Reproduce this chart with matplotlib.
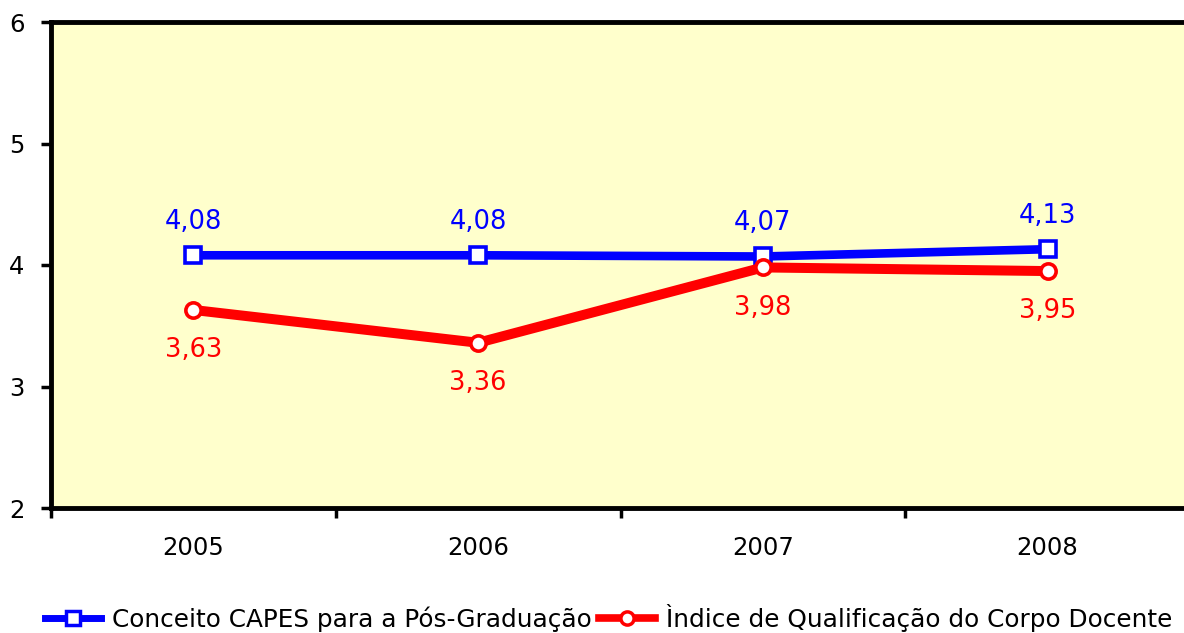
import matplotlib
matplotlib.use("Agg")
import matplotlib.pyplot as plt
from matplotlib.lines import Line2D

years = ["2005", "2006", "2007", "2008"]
capes = [4.08, 4.08, 4.07, 4.13]
iqcd = [3.63, 3.36, 3.98, 3.95]
capes_labels = ["4,08", "4,08", "4,07", "4,13"]
iqcd_labels = ["3,63", "3,36", "3,98", "3,95"]
series_names = ["Conceito CAPES para a Pós-Graduação", "Ìndice de Qualificação do Corpo Docente"]

plt.rcParams['font.family'] = ['DejaVu Sans']
fig = plt.figure(figsize=(11.84, 6.33), dpi=100)
ax = fig.add_axes([51/1184, 1-508/633, (1190-51)/1184, (508-22)/633])
ax.set_facecolor('#FFFFCC')

x = list(range(len(years)))
ax.plot(x, capes, color='#0000FF', lw=6.2, marker='s', ms=11.5, mfc='white', mec='#0000FF', mew=2.6, zorder=3)
ax.plot(x, iqcd, color='#FF0000', lw=7.2, marker='o', ms=11, mfc='white', mec='#FF0000', mew=2.6, zorder=3)

for xi, v, lab in zip(x, capes, capes_labels):
    ax.annotate(lab, (xi, v), xytext=(0, 24), textcoords='offset points', ha='center', va='center',
                color='#0000FF', fontsize=18.5)
for xi, v, lab in zip(x, iqcd, iqcd_labels):
    ax.annotate(lab, (xi, v), xytext=(0, -29), textcoords='offset points', ha='center', va='center',
                color='#FF0000', fontsize=18.5)

ax.set_xlim(-0.5, 3.5)
ax.set_ylim(2, 6)
ax.set_yticks([2, 3, 4, 5, 6])
ax.set_yticklabels(['2', '3', '4', '5', '6'], fontsize=17.5)
ax.set_xticks([-0.5, 0.5, 1.5, 2.5, 3.5])
ax.set_xticklabels([])
ax.set_xticks(x, minor=True)
ax.set_xticklabels(years, minor=True, fontsize=17.5)
ax.tick_params(axis='x', which='major', direction='out', length=7, width=2.5)
ax.tick_params(axis='x', which='minor', length=0, pad=20)
ax.tick_params(axis='y', direction='out', length=7, width=2.5, pad=12)
for s in ax.spines.values():
    s.set_linewidth(3.5)
    s.set_color('black')

handles = [
    Line2D([], [], color='#0000FF', lw=5, marker='s', ms=9.5, mfc='white', mec='#0000FF', mew=2.5),
    Line2D([], [], color='#FF0000', lw=5.5, marker='o', ms=9.5, mfc='white', mec='#FF0000', mew=2.5),
]
fig.legend(handles, series_names, loc='center left', bbox_to_anchor=(45/1184, 1-618/633), ncol=2,
           frameon=False, fontsize=17.8, handlelength=2.25, columnspacing=0.3, handletextpad=0.45,
           borderpad=0, borderaxespad=0)

fig.savefig('out.png', dpi=100)
